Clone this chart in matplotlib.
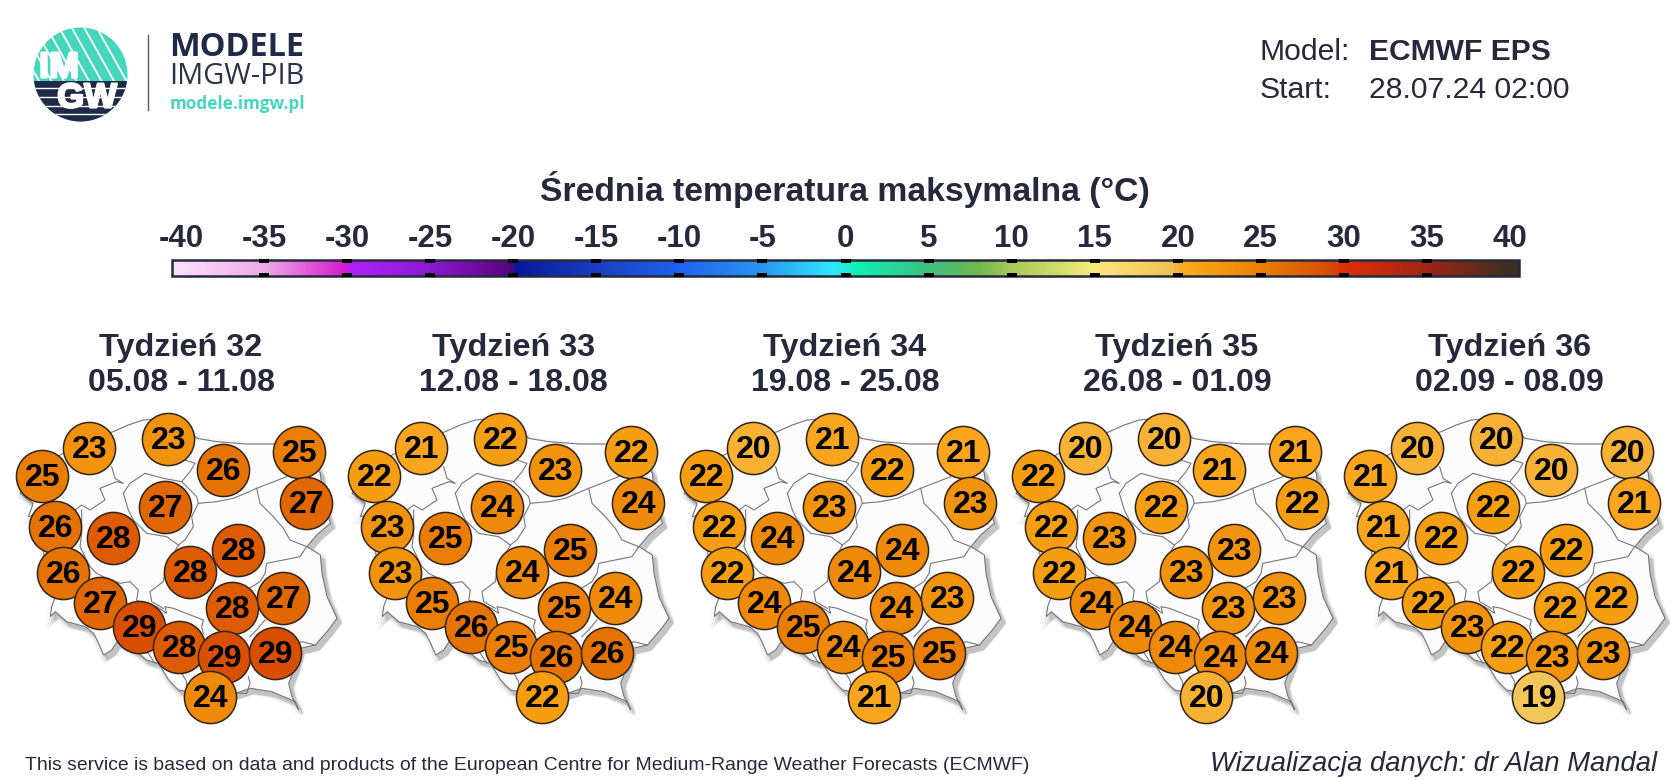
import numpy as np
import matplotlib
matplotlib.use('Agg')
import matplotlib.pyplot as plt
from matplotlib import patheffects
from matplotlib.colors import LinearSegmentedColormap, Normalize
from matplotlib.patches import Circle, Polygon, Rectangle

NAVY = '#25293b'

# legend scale
scale_ticks = [-40, -35, -30, -25, -20, -15, -10, -5, 0, 5, 10, 15, 20, 25, 30, 35, 40]
scale_nodes = [-40, -35, -30.2, -29.8, -25, -20.2, -19.8, -15, -10, -5, -0.8, 0.8, 5, 8, 10, 14.8, 15.2, 19.8, 20.2, 22, 25,
               29, 30, 35, 40]
scale_colors = ['#fcdcfb', '#eeaae6', '#d41ccc', '#b020fa', '#8a1ad0', '#58047f', '#08189e', '#1a3fc0',
                '#1f62ee', '#2a96f0', '#2ee8ff', '#10f0b0', '#3cc080', '#70b850', '#a8c858', '#f2ec78', '#ffe680',
                '#efc050', '#fbab27', '#f69e12', '#ea7f05', '#d85003', '#de3006', '#a02515', '#3c2f22']

# weeks
week_names = ['Tydzień 32', 'Tydzień 33', 'Tydzień 34', 'Tydzień 35', 'Tydzień 36']
week_dates = ['05.08 - 11.08', '12.08 - 18.08', '19.08 - 25.08', '26.08 - 01.09', '02.09 - 08.09']

# temperature per point, same order as point_x / point_y
week_32 = [23, 23, 25, 26, 25, 27, 27, 26, 28, 28, 26, 28, 28, 27, 27, 29, 28, 29, 29, 24]
week_33 = [21, 22, 22, 23, 22, 24, 24, 23, 25, 25, 23, 24, 25, 24, 25, 26, 25, 26, 26, 22]
week_34 = [20, 21, 22, 22, 21, 23, 23, 22, 24, 24, 22, 24, 24, 23, 24, 25, 24, 25, 25, 21]
week_35 = [20, 20, 22, 21, 21, 22, 22, 22, 23, 23, 22, 23, 23, 23, 24, 24, 24, 24, 24, 20]
week_36 = [20, 20, 21, 20, 20, 22, 21, 21, 22, 22, 21, 22, 22, 22, 22, 23, 22, 23, 23, 19]
weeks = [week_32, week_33, week_34, week_35, week_36]

# point positions on the first map (pixels)
point_x = [89, 168, 42, 223, 299, 165, 306, 55, 113, 238, 63, 190, 232, 283, 100, 139, 179, 224, 275, 210]
point_y = [448, 439, 476, 470, 452, 507, 503, 527, 538, 550, 573, 572, 608, 598, 603, 627, 647, 657, 653, 697]

# Poland, traced at 3x from the first map
outline = [(340, 95), (385, 75), (430, 60), (500, 55), (560, 85), (590, 115), (650, 125), (740, 132), (820, 132),
           (900, 135), (945, 190), (961, 220), (965, 260), (975, 320), (991, 370), (950, 405), (921, 440),
           (961, 465), (966, 520), (981, 590), (1011, 655), (985, 690), (946, 735), (901, 745), (885, 800),
           (866, 850), (876, 890), (896, 930), (886, 905), (816, 875), (751, 865), (706, 880), (640, 890),
           (590, 880), (536, 870), (520, 855), (506, 840), (476, 790), (440, 780), (416, 760), (351, 725),
           (335, 750), (311, 765), (296, 730), (281, 700), (256, 680), (200, 665), (166, 635), (151, 650),
           (155, 620), (170, 580), (140, 520), (130, 450), (105, 345), (85, 350), (100, 310), (60, 280),
           (130, 190), (190, 160), (270, 120)]
borders = [
    [(555, 180), (585, 190), (570, 215), (545, 245), (490, 235), (435, 220), (390, 250), (370, 280)],
    [(335, 200), (345, 235), (370, 250), (350, 245), (300, 265), (315, 300), (270, 330), (245, 315), (225, 330)],
    [(245, 330), (245, 400), (240, 440), (270, 500), (290, 520), (310, 530), (360, 550), (390, 545), (415, 570),
     (410, 600), (440, 620), (470, 620), (500, 640), (495, 620), (520, 625), (610, 660), (605, 680), (610, 700)],
    [(370, 280), (385, 330), (400, 360), (440, 400), (500, 410), (535, 435), (495, 510), (490, 545), (450, 575),
     (455, 605), (490, 625)],
    [(545, 245), (590, 290), (595, 310), (575, 350), (580, 380), (555, 420), (535, 435)],
    [(595, 310), (650, 305), (700, 295), (770, 265), (860, 230)],
    [(770, 265), (780, 310), (820, 350), (850, 385), (870, 420), (920, 440), (900, 470), (800, 490), (795, 520),
     (780, 545), (740, 570)],
    [(795, 660), (770, 690), (750, 710)],
    [(946, 735), (905, 725), (880, 740)],
    [(445, 760), (465, 790)],
    [(540, 810), (560, 845), (560, 870)],
    [(745, 830), (750, 850), (740, 880), (710, 880)],
]


def to_px(points, dx=0.0, dy=0.0):
    arr = np.array(points, dtype=float)
    return np.column_stack([arr[:, 0] / 3 + dx, arr[:, 1] / 3 + 400 + dy])


cmap = LinearSegmentedColormap.from_list(
    'temp', [((n + 40) / 80, c) for n, c in zip(scale_nodes, scale_colors)], N=1024)
norm = Normalize(-40, 40)

plt.rcParams['font.family'] = ['Liberation Sans', 'DejaVu Sans']

fig = plt.figure(figsize=(16.8, 7.8), dpi=100)
ax = fig.add_axes([0, 0, 1, 1])

# logo
disc = Circle((80.5, 74.5), 47, fc='#45d6bd', ec='none')
ax.add_patch(disc)
for s in np.arange(-20, 170, 12.5):
    line, = ax.plot([s, s + 34], [20, 81], color='white', lw=1.3, zorder=2)
    line.set_clip_path(disc)
band = Rectangle((30, 81), 100, 45, fc='#1e2a47', ec='none', zorder=3)
ax.add_patch(band)
band.set_clip_path(disc)
for y in [88, 97, 106, 114]:
    line, = ax.plot([30, 130], [y, y], color='white', lw=1, zorder=4)
    line.set_clip_path(disc)
bold_white = [patheffects.withStroke(linewidth=1.6, foreground='white')]
ax.text(59, 68, 'IM', color='white', fontsize=26, fontweight='bold', ha='center', va='center', zorder=5,
        path_effects=bold_white)
ax.text(87, 98, 'GW', color='white', fontsize=25, fontweight='bold', ha='center', va='center', zorder=5,
        path_effects=bold_white)
ax.plot([148, 148], [35, 110], color='#555a68', lw=1)
ax.text(169, 47, 'MODELE', color='#1e2a47', fontsize=23.4, fontweight='bold', family='Open Sans', va='center')
ax.text(169, 77, 'IMGW-PIB', color='#2b3349', fontsize=20.8, family='Open Sans', va='center')
ax.text(170, 104, 'modele.imgw.pl', color='#45d6bd', fontsize=12.3, fontweight='bold', family='Open Sans', va='center')

# header
ax.text(1260, 52, 'Model:', fontsize=21.7, color=NAVY, va='center')
ax.text(1369, 52, 'ECMWF EPS', fontsize=21.6, color=NAVY, fontweight='bold', va='center')
ax.text(1260, 90, 'Start:', fontsize=21.7, color=NAVY, va='center')
ax.text(1369, 90, '28.07.24 02:00', fontsize=21.7, color=NAVY, va='center')
ax.text(845, 189, 'Średnia temperatura maksymalna (°C)', fontsize=24.3, color=NAVY, fontweight='bold',
        ha='center', va='center')

# colour scale
tick_step = (1510 - 181) / 80
gradient = np.linspace(-40 - 9 / tick_step, 40 + 9 / tick_step, 2048).reshape(1, -1)
ax.imshow(gradient, cmap=cmap, norm=norm, aspect='auto', extent=(172, 1519, 276, 260), zorder=2)
ax.add_patch(Rectangle((172, 260), 1347, 16, fc='none', ec=NAVY, lw=1.8, zorder=3))
for t in scale_ticks:
    x = 181 + (t + 40) * tick_step
    if -40 < t < 40:
        ax.add_patch(Rectangle((x - 5, 259), 10, 4, fc='black', ec='none', zorder=4))
        ax.add_patch(Rectangle((x - 5, 273), 10, 4, fc='black', ec='none', zorder=4))
    ax.text(x, 239, str(t), fontsize=22.5, color=NAVY, fontweight='bold', ha='center', va='center')

# maps
for i, values in enumerate(weeks):
    dx = i * 332
    for off, lw, alpha in [(1, 7, 0.05), (2, 5, 0.08), (3, 3, 0.12), (4, 1.5, 0.18)]:
        ax.add_patch(Polygon(to_px(outline, dx + off, off + 1), closed=True, fc='#808080', ec='#808080',
                             lw=lw, alpha=alpha, zorder=2))
    ax.add_patch(Polygon(to_px(outline, dx), closed=True, fc='#fcfcfc', ec='#777777', lw=0.8, zorder=3))
    for part in borders:
        pts = to_px(part, dx)
        ax.plot(pts[:, 0], pts[:, 1], color='#777777', lw=0.8, zorder=4)
    ax.text(181 + dx, 348, week_names[i], fontsize=23.3, color=NAVY, fontweight='bold', ha='center', va='center')
    ax.text(181 + dx, 383, week_dates[i], fontsize=23, color=NAVY, fontweight='bold', ha='center', va='center')
    for j, v in enumerate(values):
        ax.scatter(point_x[j] + dx, point_y[j], s=1410, c=[v], cmap=cmap, norm=norm,
                   edgecolors='#33241a', linewidths=1.1, zorder=10 + 2 * j)
        ax.text(point_x[j] + dx + 1, point_y[j] + 2, str(v), fontsize=23, fontweight='bold',
                color='black', ha='center', va='center', zorder=11 + 2 * j)

# footer
ax.text(25, 766, 'This service is based on data and products of the European Centre for Medium-Range Weather Forecasts (ECMWF)',
        fontsize=13.92, color=NAVY, va='center')
ax.text(1657, 764, 'Wizualizacja danych: dr Alan Mandal', fontsize=19.7, color=NAVY, style='italic', ha='right', va='center')

ax.set_xlim(0, 1680)
ax.set_ylim(780, 0)
ax.axis('off')
fig.savefig('out.png', dpi=100)
